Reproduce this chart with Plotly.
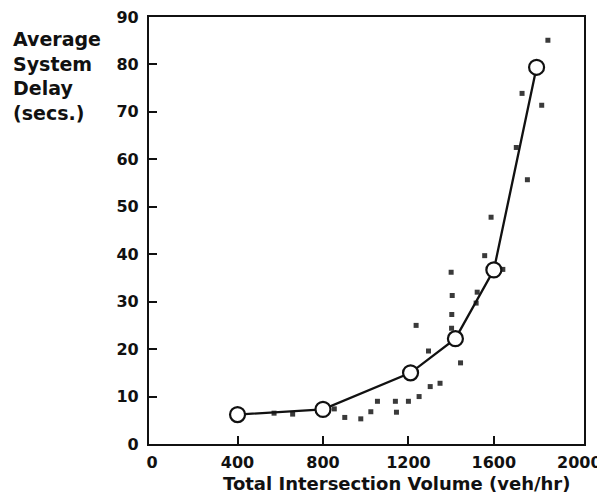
import plotly.graph_objects as go

# Mean curve (open circles joined by line)
mean_volume = [400, 800, 1210, 1420, 1600, 1800]
mean_delay = [6.2, 7.3, 15.0, 22.2, 36.7, 79.4]

# Individual observations (small squares)
obs_volume = [571, 658, 853, 902, 977, 1024, 1055, 1139, 1144, 1200, 1250, 1236,
              1294, 1302, 1348, 1402, 1403, 1405, 1400, 1444, 1517, 1522, 1557,
              1587, 1642, 1705, 1732, 1757, 1824, 1853]
obs_delay = [6.5, 6.3, 7.4, 5.6, 5.3, 6.8, 9.0, 9.0, 6.7, 9.0, 10.0, 25.0,
             19.6, 12.1, 12.8, 24.4, 27.3, 31.3, 36.2, 17.1, 29.7, 32.0, 39.7,
             47.8, 36.8, 62.5, 73.9, 55.7, 71.4, 85.1]

x_ticks = [0, 400, 800, 1200, 1600, 2000]
x_inner_ticks = [400, 800, 1200, 1600]
y_ticks = [0, 10, 20, 30, 40, 50, 60, 70, 80, 90]

FONT = "DejaVu Sans"

fig = go.Figure()
fig.add_trace(go.Scatter(
    x=obs_volume, y=obs_delay, mode="markers",
    marker=dict(symbol="square", size=5, color="#3a3a3a", line=dict(width=0)),
    showlegend=False, hoverinfo="skip"))
fig.add_trace(go.Scatter(
    x=mean_volume, y=mean_delay, mode="lines+markers",
    line=dict(color="#111111", width=2.3),
    marker=dict(symbol="circle", size=15, color="white",
                line=dict(color="#111111", width=2.2)),
    showlegend=False))
# invisible trace on the tick-mark overlay axis
fig.add_trace(go.Scatter(x=[mean_volume[0]], y=[mean_delay[0]], xaxis="x2",
                         mode="markers", marker=dict(opacity=0),
                         showlegend=False, hoverinfo="skip"))

W, H = 605, 493
L, R, T, B = 141, 29, 9, 57
PW, PH = W - L - R, H - T - B
OFF = 7  # page offset of the figure in the screenshot

xr = [-14.5, 2022]
fig.update_layout(
    width=W, height=H,
    margin=dict(l=L, r=R, t=T, b=B, autoexpand=False),
    paper_bgcolor="white", plot_bgcolor="white",
    font=dict(family=FONT, color="#111111"),
    xaxis=dict(range=xr, tickvals=x_ticks, ticktext=[str(v) for v in x_ticks],
               ticks="", showgrid=False, zeroline=False, automargin=False,
               showline=True, linecolor="#111111", linewidth=2.2, mirror=True,
               tickfont=dict(family=FONT, size=16, weight="bold", color="#111111"),
               ticklabelstandoff=3, ticklabeloverflow="allow"),
    xaxis2=dict(range=xr, overlaying="x", side="bottom", tickvals=x_inner_ticks,
                ticks="inside", ticklen=8, tickwidth=2, tickcolor="#111111",
                automargin=False,
                showticklabels=False, showgrid=False, zeroline=False, showline=False),
    yaxis=dict(range=[0, 90], tickvals=y_ticks, ticks="inside", ticklen=8,
               tickwidth=2, tickcolor="#111111", showgrid=False, zeroline=False,
               automargin=False,
               showline=True, linecolor="#111111", linewidth=2.2, mirror=True,
               tickfont=dict(family=FONT, size=16, weight="bold", color="#111111"),
               ticklabelstandoff=5, ticklabeloverflow="allow"),
    annotations=[
        dict(text="Average<br>System<br>Delay<br>(secs.)", xref="paper", yref="paper",
             x=(13 - OFF - 3 - L) / PW, y=1 - 9 / PH, xanchor="left", yanchor="top",
             align="left", showarrow=False,
             font=dict(family=FONT, size=19, weight="bold", color="#111111")),
        dict(text="Total Intersection Volume (veh/hr)", xref="paper", yref="paper",
             x=(395 - OFF - L) / PW, y=-(482 - OFF - (H - B)) / PH,
             xanchor="center", yanchor="middle", showarrow=False,
             font=dict(family=FONT, size=18, weight="bold", color="#111111")),
    ],
)

fig.write_html("out.html")
